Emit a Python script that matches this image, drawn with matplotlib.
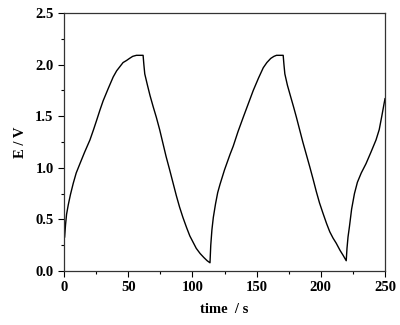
import matplotlib.pyplot as plt
from matplotlib.ticker import MultipleLocator

# Galvanostatic charge/discharge curve
time = [0.5, 1.2, 2.0, 3.3, 5.0, 7.2, 9.5, 12.4, 16.0, 20.2, 23.0, 25.4, 28.0,
        30.5, 34.5, 38.3, 41.0, 43.5, 46.0, 48.7, 51.0, 53.5, 56.4, 61.6,
        62.2, 62.9, 65.0, 67.0, 69.5, 71.9, 74.5, 77.0, 79.5, 82.3, 85.0,
        87.5, 90.0, 92.6, 95.5, 98.0, 100.5, 103.0, 106.0, 109.0, 111.5,
        113.7, 114.3, 115.2, 116.3, 118.0, 119.7, 121.5, 125.0, 129.3,
        131.8, 135.5, 139.6, 143.5, 147.4, 151.5, 155.2, 158.0, 161.0,
        163.5, 165.5, 170.7, 171.3, 172.0, 174.0, 176.5, 178.8, 181.0,
        183.5, 186.0, 188.7, 191.4, 194.0, 196.5, 199.0, 201.7, 204.5,
        207.0, 209.5, 212.0, 215.0, 217.5, 219.8, 220.4, 221.2, 222.3,
        224.0, 226.2, 228.5, 231.5, 235.2, 239.0, 243.0, 245.5, 247.5,
        249.4, 250.0]
voltage = [0.33, 0.45, 0.55, 0.64, 0.74, 0.85, 0.95, 1.04, 1.15, 1.27, 1.37, 1.46, 1.56,
           1.65, 1.77, 1.88, 1.94, 1.98, 2.02, 2.04, 2.06, 2.08, 2.09, 2.09,
           2.00, 1.91, 1.80, 1.70, 1.59, 1.49, 1.37, 1.24, 1.11, 0.98, 0.85,
           0.73, 0.62, 0.52, 0.42, 0.34, 0.28, 0.22, 0.17, 0.13, 0.10,
           0.08, 0.25, 0.40, 0.52, 0.65, 0.76, 0.84, 0.98, 1.13,
           1.21, 1.35, 1.49, 1.62, 1.75, 1.87, 1.97, 2.02, 2.06,
           2.08, 2.09, 2.09, 2.00, 1.91, 1.80, 1.69, 1.59, 1.49,
           1.37, 1.25, 1.13, 1.01, 0.89, 0.77, 0.66, 0.56, 0.46,
           0.38, 0.32, 0.27, 0.20, 0.15, 0.10, 0.22, 0.33, 0.43,
           0.60, 0.75, 0.86, 0.95, 1.04, 1.15, 1.27, 1.37, 1.50,
           1.63, 1.67]

plt.rcParams['font.family'] = 'Liberation Serif'
plt.rcParams['font.weight'] = 'bold'

fig = plt.figure(figsize=(4.0, 3.25), dpi=100)
ax = fig.add_axes([0.16, 0.166, 0.8025, 0.794])

ax.plot(time, voltage, color='black', linewidth=1.0)

ax.set_xlim(0, 250)
ax.set_ylim(0, 2.5)
ax.xaxis.set_major_locator(MultipleLocator(50))
ax.xaxis.set_minor_locator(MultipleLocator(25))
ax.yaxis.set_major_locator(MultipleLocator(0.5))
ax.yaxis.set_minor_locator(MultipleLocator(0.25))
ax.yaxis.set_major_formatter(plt.FormatStrFormatter('%.1f'))

ax.tick_params(which='major', direction='out', length=4, width=0.8,
               labelsize=10.5, top=False, right=False)
ax.tick_params(which='minor', direction='out', length=2.5, width=0.8,
               top=False, right=False)
for lab in ax.get_xticklabels() + ax.get_yticklabels():
    lab.set_fontweight('bold')
for s in ax.spines.values():
    s.set_linewidth(0.9)
    s.set_color('#333333')

ax.set_xlabel('time  / s', fontsize=10.5, fontweight='bold', labelpad=6)
ax.set_ylabel('E / V', fontsize=10.5, fontweight='bold', labelpad=6)

fig.savefig('out.png', dpi=100)
